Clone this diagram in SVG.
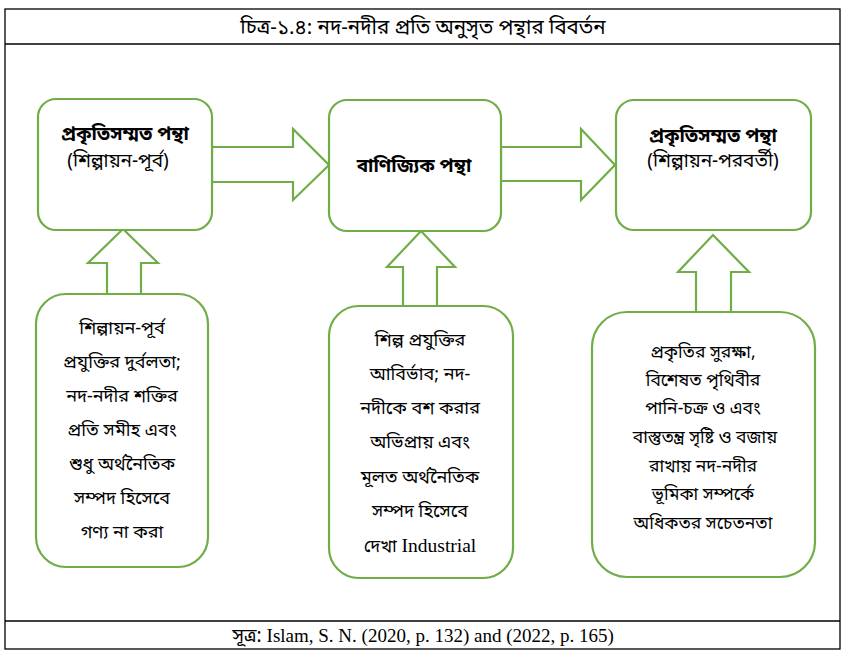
<svg xmlns="http://www.w3.org/2000/svg" width="847" height="652" viewBox="0 0 847 652">
<style>
.frame{fill:none;stroke:#000;stroke-width:1.3}
.box{fill:#fff;stroke:#70AD47;stroke-width:2.2}
.arr{fill:#fff;stroke:#70AD47;stroke-width:2.2;stroke-linejoin:miter}
text{font-family:"Noto Sans Bengali","Noto Serif Bengali","Lohit Bengali","Vrinda","Nirmala UI","Liberation Serif",serif;fill:#000;text-anchor:middle}
.t{font-size:18px}
.s{font-size:17.5px}
.p{font-size:19px}
.b{font-size:19px;font-weight:bold}
.h{font-size:20.5px}
.lat{font-family:"Liberation Serif",serif}
</style>
<rect width="847" height="652" fill="#fff"/>
<g id="frame">
<rect class="frame" x="5" y="9" width="835" height="640"/>
<line class="frame" x1="5" y1="44" x2="840" y2="44"/>
<line class="frame" x1="5" y1="621" x2="840" y2="621"/>
<text class="h" x="423" y="34">চিত্র-১.৪: নদ-নদীর প্রতি অনুসৃত পন্থার বিবর্তন</text>
<text class="p" x="423" y="642">সূত্র: <tspan class="lat">Islam, S. N. (2020, p. 132) and (2022, p. 165)</tspan></text>
</g>
<g id="connectors">
<polygon class="arr" points="212,147 293,147 293,129 329,165 293,200 293,182 212,182"/>
<polygon class="arr" points="501,147 581,147 581,129 615,165 581,200 581,181 501,181"/>
<polygon class="arr" points="123,229 158,263 141,263 141,296 107,296 107,263 88,263"/>
<polygon class="arr" points="421,231 455,267 437,267 437,307 403,307 403,267 387,267"/>
<polygon class="arr" points="713,235 749,272 731,272 731,313 696,313 696,272 678,272"/>
</g>
<g id="node1">
<rect class="box" x="38" y="99" width="174" height="131" rx="18"/>
<text class="b" x="125" y="140">প্রকৃতিসম্মত পন্থা</text>
<text class="p" x="118" y="167">(শিল্পায়ন-পূর্ব)</text>
</g>
<g id="node2">
<rect class="box" x="329" y="100" width="172" height="131" rx="18"/>
<text class="b" x="414" y="172">বাণিজ্যিক পন্থা</text>
</g>
<g id="node3">
<rect class="box" x="616" y="100" width="195" height="130" rx="18"/>
<text class="b" x="713" y="142">প্রকৃতিসম্মত পন্থা</text>
<text class="p" x="713" y="167">(শিল্পায়ন-পরবর্তী)</text>
</g>
<g id="node4">
<rect class="box" x="36" y="294" width="172" height="273" rx="30"/>
<text class="t" x="122" y="334">শিল্পায়ন-পূর্ব</text>
<text class="t" x="122" y="368">প্রযুক্তির দুর্বলতা;</text>
<text class="t" x="122" y="402">নদ-নদীর শক্তির</text>
<text class="t" x="122" y="436">প্রতি সমীহ এবং</text>
<text class="t" x="122" y="470">শুধু অর্থনৈতিক</text>
<text class="t" x="122" y="504">সম্পদ হিসেবে</text>
<text class="t" x="122" y="538">গণ্য না করা</text>
</g>
<g id="node5">
<rect class="box" x="329" y="306" width="184" height="272" rx="30"/>
<text class="t" x="420" y="346">শিল্প প্রযুক্তির</text>
<text class="t" x="420" y="380">আবির্ভাব; নদ-</text>
<text class="t" x="420" y="414">নদীকে বশ করার</text>
<text class="t" x="420" y="448">অভিপ্রায় এবং</text>
<text class="t" x="420" y="483">মূলত অর্থনৈতিক</text>
<text class="t" x="420" y="517">সম্পদ হিসেবে</text>
<text class="t" x="420" y="552">দেখা <tspan class="lat" font-size="19.5px">Industrial</tspan></text>
</g>
<g id="node6">
<rect class="box" x="592" y="312" width="223" height="265" rx="35"/>
<text class="s" x="703" y="358">প্রকৃতির সুরক্ষা,</text>
<text class="s" x="703" y="386">বিশেষত পৃথিবীর</text>
<text class="s" x="703" y="414">পানি-চক্র ও এবং</text>
<text class="s" x="705" y="443">বাস্তুতন্ত্র সৃষ্টি ও বজায়</text>
<text class="s" x="703" y="472">রাখায় নদ-নদীর</text>
<text class="s" x="703" y="500">ভূমিকা সম্পর্কে</text>
<text class="s" x="703" y="529">অধিকতর সচেতনতা</text>
</g>
</svg>
